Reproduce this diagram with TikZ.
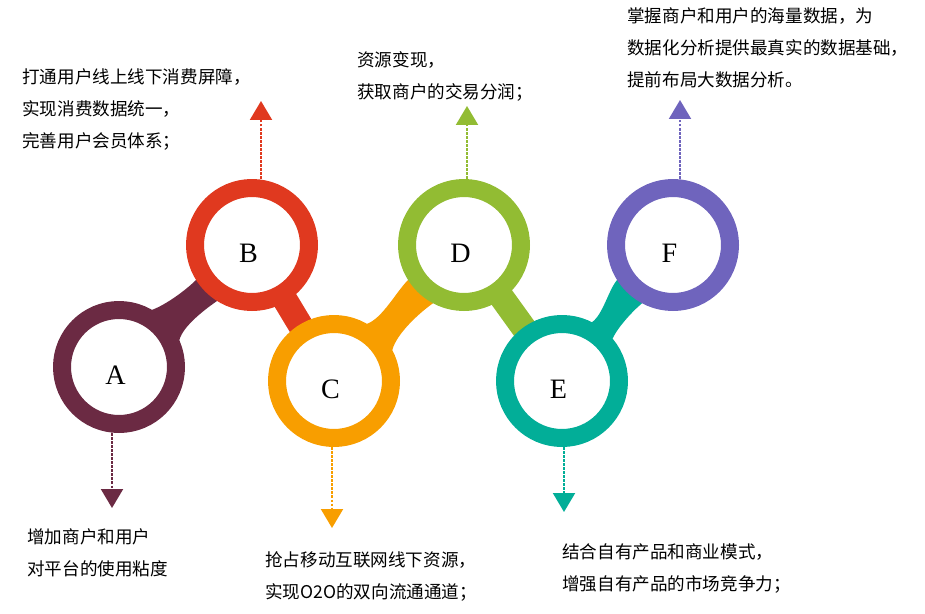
\documentclass[tikz,border=0pt]{standalone}
\usepackage{fontspec}
\setmainfont{Liberation Serif}
\newfontfamily\cjk{Noto Sans CJK SC}
\usetikzlibrary{arrows.meta,positioning,calc,backgrounds}
\definecolor{colA}{HTML}{6B2A43}
\definecolor{colB}{HTML}{E0391F}
\definecolor{colC}{HTML}{F89E00}
\definecolor{colD}{HTML}{92BC33}
\definecolor{colE}{HTML}{02AE98}
\definecolor{colF}{HTML}{6F64BD}
\tikzset{
  ring/.style={circle,draw=#1,fill=white,line width=0.36cm,minimum size=2.28cm,inner sep=0pt},
  lbl/.style={font=\fontsize{16}{16}\selectfont,xshift=-0.07cm,yshift=-0.16cm},
  band/.style={line width=0.5cm},
  nyil/.style={draw=#1,line width=1.2pt,dash pattern=on 1.5pt off 0.8pt,
    -{Triangle[width=0.44cm,length=0.38cm,fill=#1]}},
  txt/.style={anchor=north west,align=left,inner sep=0pt,
    font=\cjk\fontsize{10}{18.2}\selectfont},
}

\begin{document}
\begin{tikzpicture}[x=0.02cm,y=0.02cm]
  \useasboundingbox (0,0) rectangle (925,613);
  \node[ring=colA] (A) at (119,246) {};
  \node[ring=colB] (B) at (252,368) {};
  \node[ring=colC] (C) at (334,232) {};
  \node[ring=colD] (D) at (464,368) {};
  \node[ring=colE] (E) at (562,232) {};
  \node[ring=colF] (F) at (673,368) {};
  \foreach \n in {A,B,C,D,E,F} \node[lbl] at (\n) {\n};
  % necks between the rings
  \begin{scope}[on background layer]
    \fill[colA] (A.center) -- (A.60) to[out=20,in=225,looseness=0.7] (B.212) -- (B.center)
      -- (B.238) to[out=215,in=75,looseness=0.7] (A.24) -- cycle;
    \fill[colC] (C.center) -- (C.60) to[out=20,in=225,looseness=0.7] (D.212) -- (D.center)
      -- (D.242) to[out=215,in=75,looseness=0.7] (C.28) -- cycle;
    \fill[colE] (E.center) -- (E.63) to[out=35,in=230,looseness=0.7] (F.212) -- (F.center)
      -- (F.242) to[out=220,in=65,looseness=0.7] (E.40) -- cycle;
    \draw[band,colB] (B.center) -- (C.center);
    \draw[band,colD] (D.center) -- (E.center);
  \end{scope}
  \coordinate (tA) at (112,105);
  \coordinate (tB) at (261,512);
  \coordinate (tC) at (332,85);
  \coordinate (tD) at (467,507);
  \coordinate (tE) at (564,101);
  \coordinate (tF) at (680,513);
  \draw[nyil=colA] (tA |- A.south) -- (tA);
  \draw[nyil=colB] (tB |- B.north) -- (tB);
  \draw[nyil=colC] (tC |- C.south) -- (tC);
  \draw[nyil=colD] (tD |- D.north) -- (tD);
  \draw[nyil=colE] (tE |- E.south) -- (tE);
  \draw[nyil=colF] (tF |- F.north) -- (tF);
  \node[txt] (xA) at (27,85) {增加商户和用户\\对平台的使用粘度};
  \node[txt] (xB) at (22,545) {打通用户线上线下消费屏障，\\实现消费数据统一，\\完善用户会员体系；};
  \node[txt] (xC) at (265,62) {抢占移动互联网线下资源，\\实现O2O的双向流通通道；};
  \node[txt] (xD) at (357,562) {资源变现，\\获取商户的交易分润；};
  \node[txt] (xE) at (562,70) {结合自有产品和商业模式，\\增强自有产品的市场竞争力；};
  \node[txt] (xF) at (627,606) {掌握商户和用户的海量数据，为\\数据化分析提供最真实的数据基础，\\提前布局大数据分析。};
\end{tikzpicture}
\end{document}
